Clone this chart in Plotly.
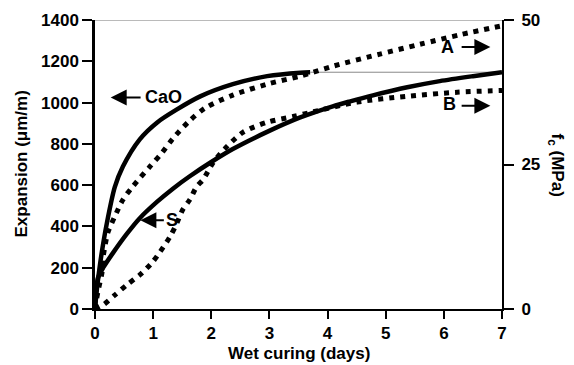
import plotly.graph_objects as go

# ---- data ----
cao_days = [0.0, 0.03, 0.06, 0.12, 0.2, 0.34, 0.48, 0.77, 1.07, 1.41, 1.81, 2.37, 2.96, 3.53, 3.70]
cao_exp = [0, 90, 160, 280, 410, 590, 690, 822, 904, 967, 1030, 1089, 1128, 1145, 1147]

s_days = [0.0, 0.02, 0.05, 0.14, 0.31, 0.55, 0.77, 1.07, 1.34, 1.63, 2.0, 2.37, 2.96, 3.53, 4.09,
          4.39, 4.78, 5.37, 5.93, 6.5, 7.0]
s_exp = [0, 90, 150, 200, 272, 365, 440, 520, 583, 643, 712, 775, 858, 928, 982,
         1006, 1035, 1074, 1104, 1128, 1147]

a_days = [0.0, 0.05, 0.12, 0.14, 0.17, 0.22, 0.34, 0.48, 0.65, 0.95, 1.15, 1.34, 1.63, 1.9, 2.37,
          2.96, 3.53, 4.09, 4.9, 5.59, 6.3, 7.0]
a_fc = [0, 3, 6.3, 9.0, 10.8, 13.2, 16.0, 18.9, 21.2, 24.7, 27.0, 29.5, 32.6, 34.8, 37.0,
        38.9, 40.3, 42.0, 44.1, 45.8, 47.5, 49.0]

b_days = [0.0, 0.14, 0.34, 0.55, 0.77, 0.98, 1.12, 1.29, 1.41, 1.51, 1.63, 1.75, 1.86, 2.03, 2.27,
          2.55, 2.96, 3.41, 3.70, 4.51, 5.37, 6.23, 7.0]
b_fc = [0, 0.7, 2.4, 4.2, 5.9, 8.0, 9.9, 12.5, 14.9, 17.2, 18.9, 21.2, 22.4, 25.3, 28.1,
        30.6, 32.3, 33.3, 34.0, 35.8, 36.8, 37.5, 37.8]

x_ticks = [0, 1, 2, 3, 4, 5, 6, 7]
y_ticks = [0, 200, 400, 600, 800, 1000, 1200, 1400]
y2_ticks = [0, 25, 50]

# labels: (text, text_x, text_y, arrow_tail_x, arrow_tip_x, arrow_y)
labels = [
    ("CaO", 1.17, 1025, 0.81, 0.27, 1025),
    ("S", 1.32, 430, 1.21, 0.78, 430),
    ("A", 6.07, 1269, 6.28, 6.8, 1269),
    ("B", 6.09, 992, 6.28, 6.8, 985),
]

FONT = "Liberation Sans, Arial, sans-serif"
DOT = "5px,6px"

fig = go.Figure()
fig.add_trace(go.Scatter(x=cao_days, y=cao_exp, mode="lines", line=dict(color="black", width=4.5, shape="spline", smoothing=0.8), showlegend=False))
fig.add_trace(go.Scatter(x=[cao_days[-1], x_ticks[-1]], y=[cao_exp[-1], cao_exp[-1]], mode="lines", line=dict(color="#888888", width=1), showlegend=False))
fig.add_trace(go.Scatter(x=s_days, y=s_exp, mode="lines", line=dict(color="black", width=4.5, shape="spline", smoothing=0.8), showlegend=False))
fig.add_trace(go.Scatter(x=a_days, y=a_fc, mode="lines", yaxis="y2", line=dict(color="black", width=5, dash=DOT, shape="spline", smoothing=0.8), showlegend=False))
fig.add_trace(go.Scatter(x=b_days, y=b_fc, mode="lines", yaxis="y2", line=dict(color="black", width=5, dash=DOT, shape="spline", smoothing=0.8), showlegend=False))

for text, tx, ty, x0, x1, ay in labels:
    fig.add_annotation(x=tx, y=ty, text="<b>%s</b>" % text, showarrow=False, font=dict(family=FONT, size=18, color="black"))
    fig.add_annotation(x=x1, y=ay, ax=x0, ay=ay, axref="x", ayref="y", text="", showarrow=True,
                       arrowhead=2, arrowsize=1.6, arrowwidth=2, arrowcolor="black")

fig.add_shape(type="line", x0=0, x1=7, y0=1400, y1=1400, line=dict(color="#777777", width=1))

fig.add_annotation(xref="paper", yref="paper", x=1.0, y=0.5, xshift=54, xanchor="center", yanchor="middle",
                   text="<b>f<sub>c</sub> (MPa)</b>", textangle=90, showarrow=False,
                   font=dict(family=FONT, size=17, color="black"))
fig.add_annotation(xref="paper", yref="paper", x=0.5, y=0.0, yshift=-44, xanchor="center", yanchor="middle",
                   text="<b>Wet curing (days)</b>", showarrow=False, font=dict(family=FONT, size=17, color="black"))
fig.add_annotation(xref="paper", yref="paper", x=0.0, y=0.5, xshift=-74, xanchor="center", yanchor="middle",
                   text="<b>Expansion (μm/m)</b>", textangle=-90, showarrow=False,
                   font=dict(family=FONT, size=17, color="black"))

# page has an 8px body margin: figure is sized/offset so the plot area lands at x 95-502, y 20-309
fig.update_layout(
    width=566, height=357,
    margin=dict(l=87, r=72, t=12, b=56),
    paper_bgcolor="white", plot_bgcolor="white",
    font=dict(family=FONT, size=17, color="black"),
    xaxis=dict(range=[0, 7], tickvals=x_ticks, ticktext=["<b>%d</b>" % v for v in x_ticks], automargin=False,
               ticks="outside", ticklen=8, tickwidth=1.5, tickcolor="black",
               showline=True, linecolor="black", linewidth=1.5, showgrid=False, zeroline=False),
    yaxis=dict(range=[0, 1400], tickvals=y_ticks, ticktext=["<b>%d</b>" % v for v in y_ticks], automargin=False,
               ticks="outside", ticklen=10, tickwidth=1.5, tickcolor="black",
               showline=True, linecolor="black", linewidth=2.5, showgrid=False, zeroline=False),
    yaxis2=dict(range=[0, 50], tickvals=y2_ticks, ticktext=["<b>%d</b>" % v for v in y2_ticks], automargin=False,
                overlaying="y", side="right", ticks="outside", ticklen=10, tickwidth=1.5, tickcolor="black",
                ticklabelstandoff=4,
                showline=True, linecolor="black", linewidth=2, showgrid=False, zeroline=False),
)

fig.write_html("out.html")
